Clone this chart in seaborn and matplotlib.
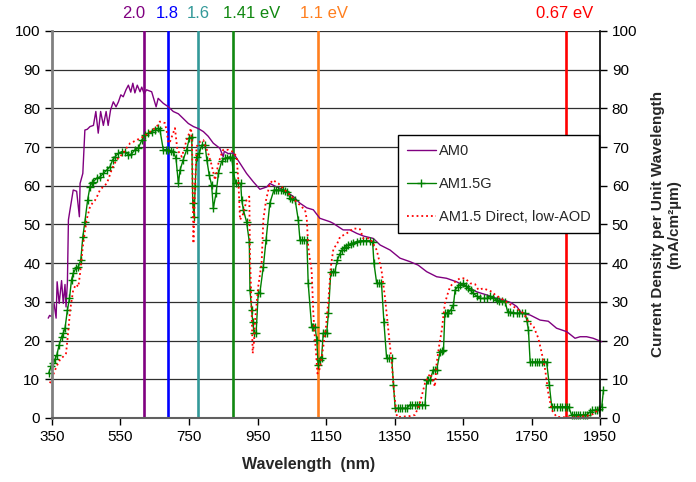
import numpy as np
import pandas as pd
import seaborn as sns
import matplotlib.pyplot as plt

# AM0 spectrum (wavelength nm, current density per unit wavelength)
am0_nm = [339, 343, 349, 356, 362, 365, 371, 378, 383, 388, 391, 395, 398, 401, 412, 422, 430, 432,
          440, 446, 453, 461, 471, 478, 485, 492, 500, 508, 514, 521, 529, 537, 544, 551, 558, 566,
          573, 580, 586, 592, 599, 607, 612, 619, 626, 641, 654, 660, 675, 690, 704, 719, 733, 748,
          763, 777, 792, 806, 821, 840, 850, 853, 865, 879, 899, 918, 938, 957, 977, 986, 1006, 1025,
          1055, 1074, 1094, 1113, 1132, 1162, 1171, 1200, 1220, 1240, 1260, 1288, 1308, 1337, 1366,
          1395, 1419, 1444, 1473, 1502, 1531, 1561, 1590, 1619, 1645, 1668, 1690, 1707, 1721, 1746,
          1775, 1799, 1823, 1853, 1877, 1892, 1911, 1930, 1955]
am0_val = [25.8, 26.5, 26.2, 29.6, 25.8, 35.2, 29.6, 35.5, 29.6, 34.5, 28.7, 35.0, 51.2, 52.9, 58.9,
           58.6, 52.0, 60.6, 63.2, 74.4, 74.6, 75.3, 75.6, 79.2, 73.6, 79.2, 75.6, 79.2, 75.6, 79.6,
           81.7, 80.4, 81.7, 83.5, 83.0, 84.8, 86.0, 84.2, 86.5, 84.0, 86.0, 84.3, 85.5, 83.8, 84.8,
           84.3, 80.4, 82.6, 81.3, 80.4, 79.2, 78.6, 77.4, 76.1, 75.3, 74.8, 74.0, 72.8, 71.0, 69.7,
           67.5, 68.9, 68.3, 68.5, 65.8, 63.2, 61.0, 59.1, 59.7, 60.6, 59.7, 59.0, 57.2, 55.5, 54.3,
           53.8, 51.6, 50.7, 50.3, 48.6, 48.6, 47.7, 47.0, 46.4, 44.7, 43.4, 41.3, 40.4, 39.5, 37.8,
           36.5, 36.1, 35.2, 33.9, 32.6, 31.8, 31.0, 30.5, 29.8, 28.8, 27.1, 26.6, 25.3, 25.0, 23.2,
           22.3, 20.6, 21.0, 21.0, 20.6, 19.7]

# AM1.5G spectrum
g_nm = [340, 348, 354, 359, 364, 371, 378, 383, 388, 395, 401, 407, 412, 420, 427, 434, 440, 446, 454,
        461, 466, 471, 480, 490, 500, 510, 519, 527, 534, 544, 553, 563, 573, 582, 592, 602, 612, 622,
        631, 641, 651, 660, 665, 675, 683, 690, 697, 704, 712, 719, 724, 733, 743, 751, 758, 761, 765,
        768, 772, 780, 787, 797, 802, 809, 816, 821, 829, 836, 845, 855, 862, 870, 875, 879, 887, 894,
        901, 904, 909, 918, 926, 928, 933, 936, 940, 946, 952, 957, 967, 975, 986, 998, 1004, 1011,
        1018, 1025, 1031, 1037, 1045, 1052, 1060, 1069, 1074, 1080, 1087, 1094, 1098, 1108, 1113,
        1118, 1123, 1127, 1132, 1137, 1142, 1147, 1152, 1157, 1164, 1170, 1176, 1183, 1191, 1197,
        1203, 1209, 1215, 1222, 1230, 1240, 1250, 1259, 1268, 1278, 1286, 1290, 1298, 1305, 1312,
        1319, 1327, 1335, 1342, 1347, 1352, 1359, 1366, 1373, 1380, 1386, 1395, 1402, 1409, 1415,
        1422, 1430, 1439, 1444, 1449, 1454, 1463, 1468, 1473, 1483, 1488, 1493, 1497, 1502, 1507,
        1515, 1522, 1527, 1534, 1541, 1551, 1558, 1565, 1572, 1580, 1590, 1600, 1610, 1619, 1629,
        1638, 1648, 1656, 1664, 1673, 1680, 1688, 1697, 1707, 1714, 1722, 1731, 1737, 1741, 1746,
        1752, 1759, 1766, 1773, 1780, 1787, 1794, 1802, 1809, 1816, 1824, 1833, 1840, 1847, 1853,
        1858, 1867, 1874, 1880, 1886, 1892, 1899, 1905, 1911, 1921, 1928, 1934, 1940, 1947, 1955,
        1960]
g_val = [11.5, 13.5, 14.1, 15.2, 16.3, 18.9, 21.0, 22.0, 23.2, 27.9, 30.9, 35.7, 37.4, 38.7, 39.1,
         40.8, 46.8, 50.7, 56.3, 59.8, 60.8, 61.1, 61.9, 62.3, 63.2, 64.1, 64.9, 66.7, 67.5, 68.4,
         68.8, 68.8, 68.0, 68.2, 69.3, 69.7, 71.8, 73.1, 73.6, 74.0, 74.4, 74.9, 74.5, 69.3, 69.3,
         69.3, 69.0, 68.8, 67.1, 60.6, 64.1, 66.7, 69.3, 72.3, 72.7, 55.5, 52.0, 60.0, 67.5, 68.4,
         70.5, 70.5, 66.7, 62.8, 60.2, 54.2, 58.1, 63.2, 66.3, 67.1, 67.3, 67.5, 67.3, 63.6, 60.6,
         60.6, 60.6, 56.3, 53.7, 50.7, 45.6, 33.1, 27.9, 24.9, 21.9, 21.9, 32.2, 32.4, 39.1, 46.0,
         55.5, 58.9, 58.9, 58.9, 58.9, 58.9, 58.7, 58.5, 56.8, 56.5, 56.3, 51.2, 46.0, 46.0, 46.0,
         46.0, 34.8, 23.6, 23.6, 23.6, 20.2, 13.7, 15.0, 15.5, 21.9, 21.9, 21.9, 27.1, 37.8, 37.8,
         37.8, 40.8, 42.5, 43.5, 43.9, 44.3, 44.7, 45.0, 45.3, 45.6, 45.8, 45.8, 45.8, 45.8, 45.6,
         40.0, 34.8, 34.8, 34.8, 24.9, 15.4, 15.4, 15.4, 8.5, 2.5, 2.5, 2.5, 2.5, 2.5, 2.5, 3.4,
         3.4, 3.4, 3.4, 3.4, 3.4, 3.4, 9.8, 9.8, 9.8, 12.4, 12.4, 12.4, 17.1, 17.3, 17.5, 27.1,
         27.1, 27.1, 28.0, 29.2, 33.1, 33.8, 34.4, 34.8, 34.2, 33.5, 33.0, 32.2, 31.5, 30.9, 30.9,
         30.9, 31.4, 31.0, 30.5, 30.3, 30.2, 30.1, 27.5, 27.3, 27.2, 27.1, 27.1, 27.1, 27.1, 25.0,
         22.7, 14.5, 14.5, 14.5, 14.5, 14.5, 14.5, 14.5, 14.5, 8.5, 2.9, 2.9, 2.9, 2.9, 2.9, 2.9,
         2.9, 2.9, 0.8, 0.8, 0.8, 0.8, 0.8, 0.8, 0.8, 0.8, 1.6, 2.0, 2.0, 2.0, 2.3, 2.9, 7.2]

# AM1.5 Direct, low-AOD spectrum
d_nm = [344, 352, 359, 366, 373, 382, 391, 396, 403, 412, 420, 427, 432, 441, 451, 461, 468, 476,
        483, 490, 500, 510, 517, 524, 531, 539, 548, 558, 568, 578, 588, 597, 607, 617, 627, 636,
        646, 656, 665, 672, 680, 685, 690, 695, 700, 709, 716, 722, 729, 736, 743, 750, 756, 759,
        763, 767, 772, 782, 792, 799, 806, 816, 826, 836, 843, 850, 858, 865, 872, 879, 889, 894,
        899, 904, 909, 918, 926, 928, 933, 936, 940, 943, 952, 962, 967, 975, 986, 996, 1003, 1011,
        1020, 1030, 1040, 1050, 1062, 1074, 1089, 1094, 1098, 1103, 1108, 1113, 1117, 1121, 1125,
        1132, 1137, 1142, 1150, 1157, 1164, 1172, 1181, 1191, 1200, 1210, 1220, 1230, 1249, 1259,
        1268, 1278, 1288, 1298, 1305, 1312, 1322, 1331, 1342, 1349, 1357, 1370, 1380, 1395, 1410,
        1424, 1439, 1454, 1461, 1468, 1473, 1480, 1488, 1497, 1505, 1512, 1520, 1527, 1541, 1556,
        1571, 1585, 1595, 1609, 1624, 1635, 1644, 1656, 1668, 1683, 1697, 1712, 1726, 1741, 1756,
        1770, 1780, 1790, 1799, 1809, 1823, 1840, 1853, 1870, 1890, 1910, 1930, 1950]
d_val = [9.0, 10.8, 12.4, 13.8, 15.0, 15.8, 16.7, 21.0, 27.9, 33.1, 34.5, 33.9, 37.4, 45.1, 51.2,
         54.6, 55.5, 56.3, 57.5, 58.9, 59.8, 60.6, 62.3, 64.1, 65.5, 66.7, 67.5, 68.4, 69.8, 71.0,
         71.4, 71.8, 72.3, 72.7, 73.3, 74.0, 74.6, 75.3, 76.6, 76.4, 76.2, 74.0, 71.0, 71.5, 72.7,
         74.9, 69.3, 68.5, 67.5, 69.6, 71.8, 73.5, 74.9, 70.0, 45.1, 58.0, 70.1, 71.4, 71.8, 70.0,
         68.4, 65.4, 61.5, 65.8, 67.8, 69.3, 69.3, 69.3, 69.0, 68.8, 67.5, 61.5, 51.2, 52.0, 52.9,
         56.3, 57.2, 42.5, 27.1, 16.7, 20.0, 25.3, 33.9, 40.0, 51.2, 56.3, 60.6, 61.5, 61.0, 60.6,
         59.8, 58.9, 58.0, 57.2, 56.0, 55.0, 53.7, 51.2, 44.3, 41.0, 38.2, 27.1, 21.5, 16.7, 11.5,
         12.8, 15.5, 18.4, 23.6, 30.5, 39.1, 43.9, 44.7, 46.8, 47.2, 47.7, 48.3, 49.0, 48.8, 46.4,
         46.4, 46.4, 45.0, 43.4, 40.8, 38.2, 31.3, 23.6, 14.1, 6.4, 0.3, 0.3, 0.4, 0.5, 0.8,
         3.8, 9.0, 11.5, 10.0, 8.1, 14.1, 18.5, 22.7, 29.6, 32.0, 33.9, 34.7, 35.2, 36.1, 36.1,
         34.8, 34.6, 33.1, 33.5, 33.0, 32.6, 31.8, 31.2, 30.5, 29.6, 28.8, 28.0, 27.1, 24.9, 23.6,
         20.6, 16.7, 12.4, 6.4, 2.1, 0.3, 0.2, 0.2, 0.2, 0.3, 0.5, 1.0, 2.5]

# band gap markers
gap_labels = ['2.0', '1.8', '1.6', '1.41 eV', '1.1 eV', '0.67 eV']
gap_nm = [620, 689, 775, 879, 1127, 1851]
gap_colors = ['#800080', '#0000FF', '#339999', '#118811', '#FF7F1E', '#FF0000']
label_x = [588, 687, 776, 932, 1144, 1848]

sns.set_style('white')
plt.rcParams['font.family'] = ['Liberation Sans', 'DejaVu Sans']

fig = plt.figure(figsize=(6.96, 4.82), dpi=100)
ax = fig.add_axes([0.0747, 0.1328, 0.7874, 0.8029])

ax.yaxis.grid(True, color='#303030', lw=0.9)
ax.set_axisbelow(True)

for x, c in zip(gap_nm, gap_colors):
    ax.axvline(x, color=c, lw=1.9, zorder=1.5)

sns.lineplot(x=am0_nm, y=am0_val, ax=ax, color='#800080', lw=1.0, estimator=None,
             sort=False, label='AM0', clip_on=False, zorder=2)
sns.lineplot(x=g_nm, y=g_val, ax=ax, color='#008000', lw=1.0, marker='+', markersize=6,
             markeredgewidth=1.0, markeredgecolor='#008000', markerfacecolor='#008000',
             estimator=None, sort=False, label='AM1.5G', clip_on=False, zorder=2.2)
sns.lineplot(x=d_nm, y=d_val, ax=ax, color='#FF0000', lw=1.3, linestyle=':', estimator=None,
             sort=False, label='AM1.5 Direct, low-AOD', clip_on=False, zorder=2.4)

for lab, x, c in zip(gap_labels, label_x, gap_colors):
    ax.text(x, 1.044, lab, color=c, fontsize=12, ha='center', va='center',
            transform=ax.get_xaxis_transform())

ax.set_xlim(350, 1950)
ax.set_ylim(0, 100)
ax.set_xticks(range(350, 1951, 200))
ax.set_yticks(range(0, 101, 10))
ax.tick_params(axis='both', labelsize=11, direction='out', length=5, width=1, colors='black')
ax.tick_params(axis='y', left=True, right=True, labelleft=True, labelright=True)
ax.tick_params(axis='x', bottom=True)

ax.spines['top'].set_visible(False)
ax.spines['left'].set_color('#808080')
ax.spines['left'].set_linewidth(2)
ax.spines['bottom'].set_color('#606060')
ax.spines['bottom'].set_linewidth(1.5)
ax.spines['right'].set_color('black')
ax.spines['right'].set_linewidth(1.2)

ax.set_xlabel('Wavelength  (nm)', fontsize=11.5, fontweight='bold')
ax.xaxis.set_label_coords(0.468, -0.1)
ax.set_ylabel('')
fig.text(0.957, 0.535, 'Current Density per Unit Wavelength\n(mA/cm²µm)', rotation=90,
         ha='center', va='center', fontsize=11, fontweight='bold', multialignment='center')

leg = ax.legend(loc='upper left', bbox_to_anchor=(0.631, 0.731), fontsize=10.5, frameon=True,
                fancybox=False, handlelength=2.05, handletextpad=0.15, labelspacing=1.3,
                borderpad=0.6, borderaxespad=0)
leg.get_frame().set_edgecolor('black')
leg.get_frame().set_linewidth(1)
leg.get_frame().set_alpha(1)

fig.savefig('out.png', dpi=100)
